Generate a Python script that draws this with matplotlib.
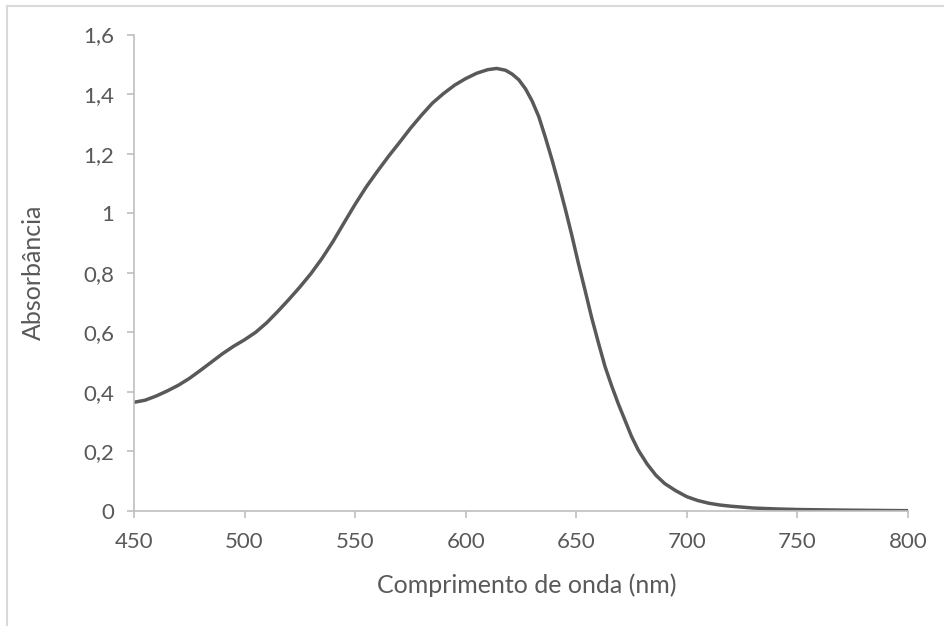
import matplotlib
matplotlib.use("Agg")
import matplotlib.pyplot as plt
from matplotlib.lines import Line2D

wavelength = [450, 455, 460, 465, 470, 475, 480, 485, 490, 495, 500, 505, 510, 515,
              520, 525, 530, 535, 540, 545, 550, 555, 560, 565, 570, 575, 580, 585,
              590, 595, 600, 605, 610, 614, 618, 621, 624, 627, 630, 633, 636, 639,
              642, 645, 648, 651, 654, 657, 660, 663, 666, 669, 672, 675, 678, 682,
              686, 690, 695, 700, 705, 710, 715, 720, 730, 740, 750, 770, 800]
absorbance = [0.365, 0.372, 0.386, 0.403, 0.422, 0.445, 0.472, 0.500, 0.528, 0.553,
              0.575, 0.600, 0.632, 0.670, 0.710, 0.752, 0.797, 0.848, 0.905, 0.968,
              1.030, 1.088, 1.140, 1.190, 1.237, 1.285, 1.329, 1.370, 1.402, 1.430,
              1.452, 1.470, 1.482, 1.486, 1.480, 1.467, 1.448, 1.418, 1.377, 1.325,
              1.255, 1.180, 1.100, 1.015, 0.925, 0.830, 0.740, 0.648, 0.565, 0.485,
              0.420, 0.360, 0.305, 0.250, 0.205, 0.158, 0.120, 0.092, 0.068, 0.048,
              0.035, 0.026, 0.020, 0.016, 0.010, 0.007, 0.005, 0.003, 0.001]

xticks = [450, 500, 550, 600, 650, 700, 750, 800]
yticks = [0, 0.2, 0.4, 0.6, 0.8, 1.0, 1.2, 1.4, 1.6]
ytick_labels = ["0", "0,2", "0,4", "0,6", "0,8", "1", "1,2", "1,4", "1,6"]

text_color = "#595959"
axis_color = "#BFBFBF"
font = "Lato"

fig = plt.figure(figsize=(9.44, 6.26), dpi=100)
W, H = 944, 626
ax = fig.add_axes([134 / W, 1 - 511 / H, (908 - 134) / W, (511 - 34.5) / H])

ax.plot(wavelength, absorbance, color="#595959", lw=2.5,
        solid_capstyle="round", solid_joinstyle="round")

ax.set_xlim(450, 800)
ax.set_ylim(0, 1.6)
ax.set_xticks(xticks)
ax.set_xticklabels([str(v) for v in xticks])
ax.set_yticks(yticks)
ax.set_yticklabels(ytick_labels)

for s in ["top", "right"]:
    ax.spines[s].set_visible(False)
for s in ["left", "bottom"]:
    ax.spines[s].set_color(axis_color)
    ax.spines[s].set_linewidth(1.2)

ax.tick_params(axis="both", colors=axis_color, labelcolor=text_color,
               length=5, width=1.2, labelsize=16, direction="out")
ax.tick_params(axis="x", pad=10)
ax.tick_params(axis="y", pad=9)
for lab in ax.get_xticklabels() + ax.get_yticklabels():
    lab.set_family(font)

ax.set_xlabel("Comprimento de onda (nm)", color=text_color, fontsize=18,
              family=font, va="center")
ax.xaxis.set_label_coords(0.508, -(585 - 511) / 476.5)
ax.set_ylabel("Absorbância", color=text_color, fontsize=18, family=font,
              va="center")
ax.yaxis.set_label_coords((33 - 134) / 774, 0.5)

# figure border (light gray, top and left visible)
fig.add_artist(Line2D([7 / W, 7 / W], [0, 1 - 6 / H], transform=fig.transFigure,
                      color="#D9D9D9", lw=1.5))
fig.add_artist(Line2D([7 / W, 1], [1 - 6 / H, 1 - 6 / H], transform=fig.transFigure,
                      color="#D9D9D9", lw=1.5))

fig.savefig("out.png", dpi=100, facecolor="white")
